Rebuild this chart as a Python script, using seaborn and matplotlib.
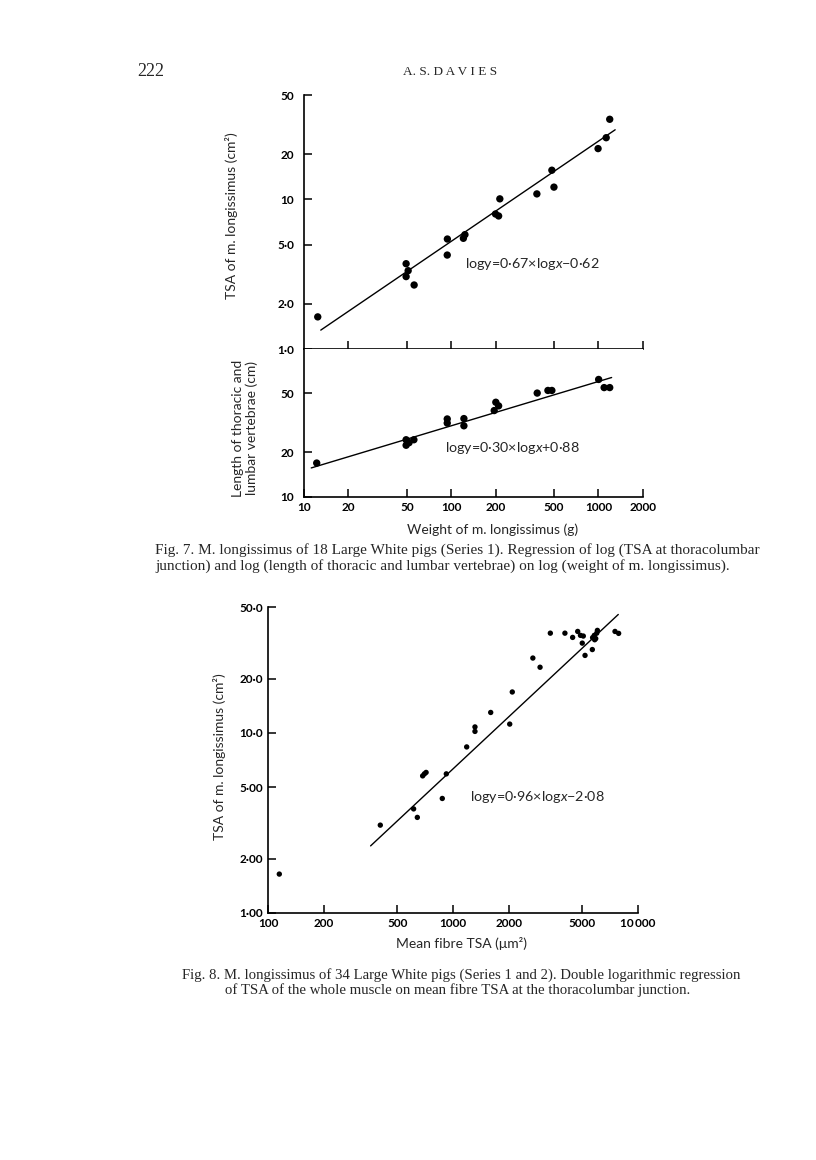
import matplotlib
matplotlib.use("Agg")
import matplotlib.pyplot as plt
import seaborn as sns
import numpy as np

# ---------------- data ----------------
# Fig. 7 (upper panel): weight of m. longissimus (g) vs TSA (cm2)
weight_tsa = [12.4, 49.4, 51, 49.4, 56, 94.2, 94, 121, 124, 200, 210, 214,
              382, 483, 499, 995, 1130, 1194]
tsa7 = [1.64, 3.72, 3.34, 3.05, 2.68, 5.44, 4.25, 5.5, 5.82, 8.0, 7.76, 10.1,
        10.9, 15.7, 12.1, 21.9, 25.9, 34.4]
# Fig. 7 (lower panel): weight vs length of thoracic and lumbar vertebrae (cm)
weight_len = [12.2, 49.4, 49.4, 51.7, 55.8, 94, 94, 122, 122, 201, 210, 196,
              384, 454, 483, 1004, 1094, 1194]
length7 = [16.9, 24.3, 22.3, 23.2, 24.3, 33.6, 31.5, 33.8, 30.2, 43.6, 41.2, 38.3,
           50.3, 52.4, 52.4, 62.2, 54.8, 54.8]
# Fig. 8: mean fibre TSA (um2) vs TSA of muscle (cm2)
fibre_tsa = [114.7, 404, 612, 641, 685, 700, 715, 875, 920, 1186, 1315, 1315,
             1600, 2028, 2094, 2706, 2960, 3365, 4036, 4443, 4733, 4900, 5075,
             5010, 5186, 5680, 5700, 5820, 5925, 6000, 6050, 5850, 7536, 7885]
tsa8 = [1.64, 3.07, 3.78, 3.39, 5.77, 5.92, 6.03, 4.32, 5.92, 8.36, 10.8, 10.2,
        13.0, 11.2, 16.9, 26.1, 23.2, 35.9, 35.9, 34.0, 36.7, 34.9, 34.6,
        31.6, 27.0, 29.1, 33.9, 34.9, 33.5, 35.9, 37.2, 33.0, 36.7, 35.8]

# regression equations (log y = slope * log x + intercept) and drawn x-range
fit7a = dict(slope=0.67, intercept=-0.62, xrange=[13, 1300])
fit7b = dict(slope=0.30, intercept=0.88, xrange=[11.2, 1230])
fit8 = dict(slope=0.96, intercept=-2.08, xrange=[358, 7850])

x7_ticks = [10, 20, 50, 100, 200, 500, 1000, 2000]
x7_labels = ["10", "20", "50", "100", "200", "500", "1000", "2000"]
y7a_ticks = [1, 2, 5, 10, 20, 50]
y7a_labels = ["1·0", "2·0", "5·0", "10", "20", "50"]
y7b_ticks = [10, 20, 50]
y7b_labels = ["10", "20", "50"]
x8_ticks = [100, 200, 500, 1000, 2000, 5000, 10000]
x8_labels = ["100", "200", "500", "1000", "2000", "5000", "10\u2009000"]
y8_ticks = [1, 2, 5, 10, 20, 50]
y8_labels = ["1·00", "2·00", "5·00", "10·0", "20·0", "50·0"]

# ---------------- style ----------------
sns.set_theme(style="ticks")
plt.rcParams["font.family"] = ["Lato", "DejaVu Sans"]
plt.rcParams["mathtext.fontset"] = "custom"
plt.rcParams["mathtext.rm"] = "Lato"
plt.rcParams["mathtext.it"] = "Lato:italic"

W, H = 816, 1160
fig = plt.figure(figsize=(W / 100, H / 100), dpi=100)
fig.patch.set_facecolor("white")


def rect(x0, y0, x1, y1):
    return [x0 / W, 1 - y1 / H, (x1 - x0) / W, (y1 - y0) / H]


def fpos(x, y):
    return x / W, 1 - y / H


ax1 = fig.add_axes(rect(304, 95, 642.7, 349))
ax2 = fig.add_axes(rect(304, 349, 642.7, 496.7))
ax3 = fig.add_axes(rect(268.3, 607.3, 637.7, 912.7))

TICKFS = 8.5


def fitline(fit):
    xs = np.array(fit["xrange"], dtype=float)
    ys = 10 ** (fit["slope"] * np.log10(xs) + fit["intercept"])
    return xs, ys


def style_axis(ax):
    ax.set_xscale("log")
    ax.set_yscale("log")
    ax.set_facecolor("white")
    for s in ["top", "right"]:
        ax.spines[s].set_visible(False)
    for s in ["left", "bottom"]:
        ax.spines[s].set_linewidth(1.2)
        ax.spines[s].set_color("black")
    ax.minorticks_off()
    ax.tick_params(which="major", direction="in", length=6, width=1.1,
                   colors="black", labelsize=TICKFS)
    ax.set_xlabel("")
    ax.set_ylabel("")


def bold_ticks(ax):
    for t in ax.get_xticklabels() + ax.get_yticklabels():
        t.set_fontweight("bold")


# Fig 7 upper
sns.scatterplot(x=weight_tsa, y=tsa7, ax=ax1, color="black", s=28,
                edgecolor="none", linewidth=0)
fx, fy = fitline(fit7a)
sns.lineplot(x=fx, y=fy, ax=ax1, color="black", linewidth=1.0)
style_axis(ax1)
ax1.set_xlim(10, 2000)
ax1.set_ylim(1, 50)
ax1.set_xticks(x7_ticks[1:])
ax1.set_xticklabels([])
ax1.set_yticks(y7a_ticks)
ax1.set_yticklabels(y7a_labels)
ax1.minorticks_off()
ax1.tick_params(axis="y", pad=7)

# Fig 7 lower
sns.scatterplot(x=weight_len, y=length7, ax=ax2, color="black", s=28,
                edgecolor="none", linewidth=0)
fx, fy = fitline(fit7b)
sns.lineplot(x=fx, y=fy, ax=ax2, color="black", linewidth=1.0)
style_axis(ax2)
ax2.set_xlim(10, 2000)
ax2.set_ylim(10, 100)
ax2.set_xticks(x7_ticks)
ax2.set_xticklabels(x7_labels)
ax2.set_yticks(y7b_ticks)
ax2.set_yticklabels(y7b_labels)
ax2.minorticks_off()
ax2.tick_params(axis="y", pad=7)
ax2.tick_params(axis="x", pad=4)

# Fig 8
sns.scatterplot(x=fibre_tsa, y=tsa8, ax=ax3, color="black", s=15,
                edgecolor="none", linewidth=0)
fx, fy = fitline(fit8)
sns.lineplot(x=fx, y=fy, ax=ax3, color="black", linewidth=1.0)
style_axis(ax3)
ax3.set_xlim(100, 10000)
ax3.set_ylim(1, 50)
ax3.set_xticks(x8_ticks)
ax3.set_xticklabels(x8_labels)
ax3.set_yticks(y8_ticks)
ax3.set_yticklabels(y8_labels)
ax3.minorticks_off()
ax3.tick_params(axis="y", pad=4)
ax3.tick_params(axis="x", pad=4)

for ax in (ax1, ax2, ax3):
    if ax.get_legend() is not None:
        ax.get_legend().remove()
    bold_ticks(ax)

# ---------------- texts ----------------
LABFS = 10
EQFS = 10.3
fig.text(*fpos(137, 72), "222", ha="left", va="center",
         family="Liberation Serif", fontsize=13)
fig.text(*fpos(450, 72), "A. S. D A V I E S", ha="center", va="center",
         family="Liberation Serif", fontsize=9.5)

fig.text(*fpos(232, 216), "TSA of m. longissimus (cm²)", rotation=90,
         ha="center", va="center", fontsize=LABFS)
fig.text(*fpos(245, 428), "Length of thoracic and\nlumbar vertebrae (cm)",
         rotation=90, ha="center", va="center", fontsize=LABFS,
         linespacing=1.15)
fig.text(*fpos(493, 530), "Weight of m. longissimus (g)", ha="center",
         va="center", fontsize=LABFS)

fig.text(*fpos(465, 264), "logy=0·67×log$\\mathit{x}$−0·62",
         ha="left", va="center", fontsize=EQFS)
fig.text(*fpos(445, 448), "logy=0·30×log$\\mathit{x}$+0·88",
         ha="left", va="center", fontsize=EQFS)
fig.text(*fpos(470, 797), "logy=0·96×log$\\mathit{x}$−2·08",
         ha="left", va="center", fontsize=EQFS)

fig.text(*fpos(155, 550),
         "Fig. 7. M. longissimus of 18 Large White pigs (Series 1). Regression of log (TSA at thoracolumbar",
         ha="left", va="center", family="Liberation Serif", fontsize=11)
fig.text(*fpos(155, 566),
         "junction) and log (length of thoracic and lumbar vertebrae) on log (weight of m. longissimus).",
         ha="left", va="center", family="Liberation Serif", fontsize=11)

fig.text(*fpos(219, 757), "TSA of m. longissimus (cm²)", rotation=90,
         ha="center", va="center", fontsize=LABFS)
fig.text(*fpos(462, 943), "Mean fibre TSA (μm²)", ha="center", va="center",
         fontsize=LABFS)

fig.text(*fpos(461, 975),
         "Fig. 8. M. longissimus of 34 Large White pigs (Series 1 and 2). Double logarithmic regression",
         ha="center", va="center", family="Liberation Serif", fontsize=10.6)
fig.text(*fpos(458, 990),
         "of TSA of the whole muscle on mean fibre TSA at the thoracolumbar junction.",
         ha="center", va="center", family="Liberation Serif", fontsize=10.6)

fig.savefig("out.png", dpi=100, facecolor="white")
